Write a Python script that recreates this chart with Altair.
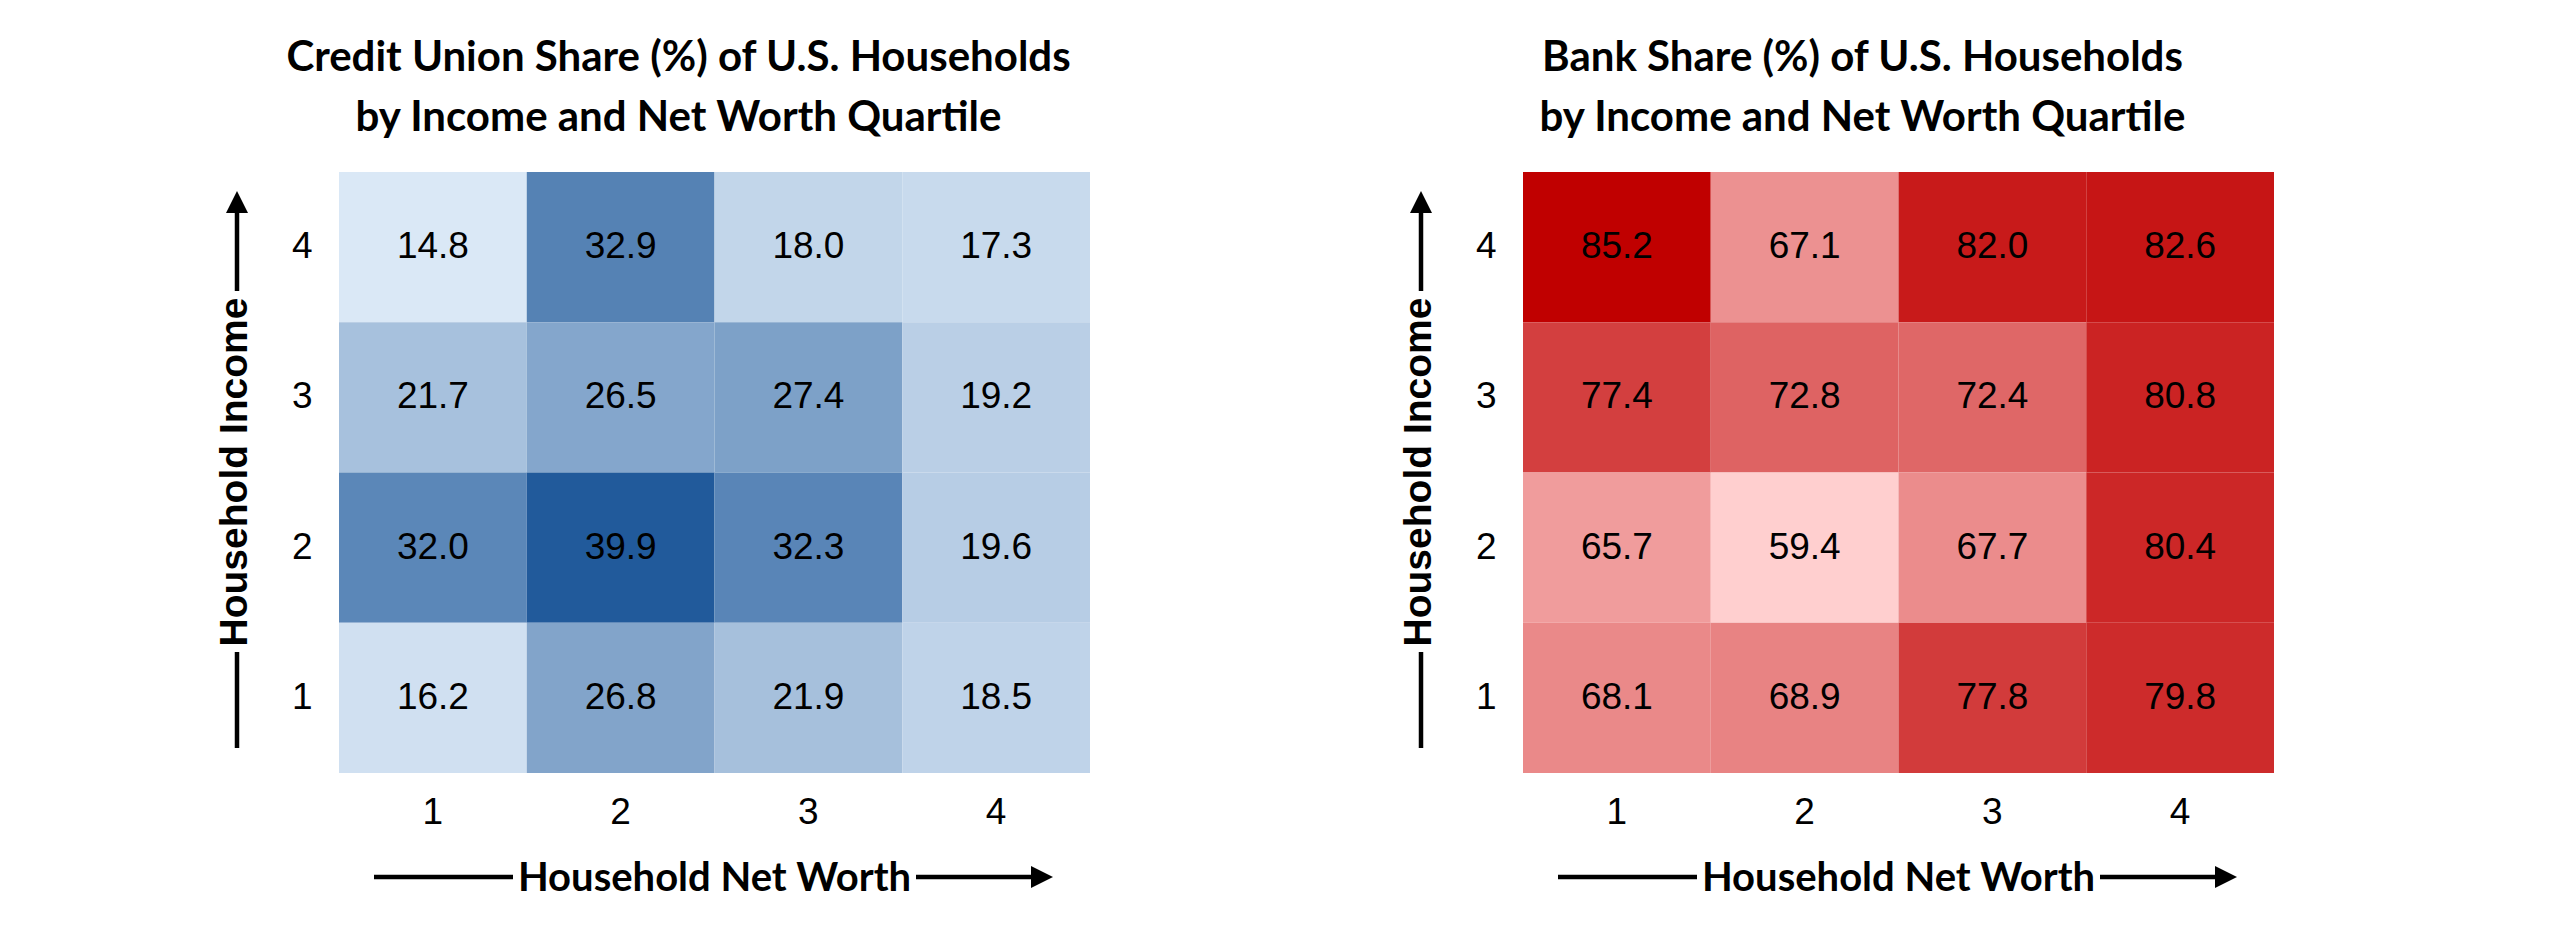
import altair as alt
import pandas as pd

net_worth_q = [1, 2, 3, 4]
income_q = [4, 3, 2, 1]

cu_share = [
    [14.8, 32.9, 18.0, 17.3],
    [21.7, 26.5, 27.4, 19.2],
    [32.0, 39.9, 32.3, 19.6],
    [16.2, 26.8, 21.9, 18.5],
]
bank_share = [
    [85.2, 67.1, 82.0, 82.6],
    [77.4, 72.8, 72.4, 80.8],
    [65.7, 59.4, 67.7, 80.4],
    [68.1, 68.9, 77.8, 79.8],
]

cu_title = ["Credit Union Share (%) of U.S. Households", "by Income and Net Worth Quartile"]
bank_title = ["Bank Share (%) of U.S. Households", "by Income and Net Worth Quartile"]
x_title = "Household Net Worth"
y_title = "Household Income"

blue_range = ["#dae8f6", "#215a9b"]
red_range = ["#ffcfcf", "#c00000"]

W, H = 751, 601
NARROW = "Lato, sans-serif"
REG = "Liberation Sans, Arial, sans-serif"


def frame(matrix):
    rows = []
    for i, inc in enumerate(income_q):
        for j, nw in enumerate(net_worth_q):
            rows.append({"inc": inc, "nw": nw, "v": matrix[i][j]})
    return pd.DataFrame(rows)


one = pd.DataFrame({"k": [0]})


def seg(x, x2, y, y2):
    return alt.Chart(one).mark_rule(color="black", strokeWidth=4.5).encode(
        x=alt.value(x), x2=alt.value(x2), y=alt.value(y), y2=alt.value(y2)
    )


def head(shape, x, y):
    return alt.Chart(one).mark_point(shape=shape, size=484, filled=True, color="black", opacity=1).encode(
        x=alt.value(x), y=alt.value(y)
    )


def panel(matrix, title, rng):
    df = frame(matrix)
    vals = [v for r in matrix for v in r]
    base = alt.Chart(df).encode(
        x=alt.X("nw:O", sort=net_worth_q, title="",
                axis=alt.Axis(labelAngle=0, labelFont=REG, labelFontSize=37, labelColor="black",
                              ticks=False, tickSize=0, domain=False, labelPadding=21)),
        y=alt.Y("inc:O", sort=income_q, title="",
                axis=alt.Axis(labelFont=REG, labelFontSize=37, labelColor="black",
                              ticks=False, tickSize=0, domain=False, labelPadding=27)),
    )
    rect = base.mark_rect().encode(
        color=alt.Color("v:Q", legend=None,
                        scale=alt.Scale(domain=[min(vals), max(vals)], range=rng, interpolate="rgb"))
    )
    txt = base.mark_text(font=REG, fontSize=37, color="black").encode(text=alt.Text("v:Q", format=".1f"))

    ytxt = alt.Chart(one).mark_text(text=y_title, font=REG, fontWeight="bold", fontSize=39,
                                    angle=270, align="center", baseline="middle", color="black").encode(
        x=alt.value(-104), y=alt.value(300))
    xtxt = alt.Chart(one).mark_text(text=x_title, font=NARROW, fontWeight="bold", fontSize=40,
                                    align="center", baseline="middle", color="black").encode(
        x=alt.value(375.5), y=alt.value(707))

    deco = [
        seg(-102, -102, 38, 119), seg(-102, -102, 480, 576), head("M0,-1L1,1L-1,1Z", -102, 30),
        seg(35, 174, 705, 705), seg(577, 695, 705, 705), head("M1,0L-1,-1L-1,1Z", 703, 705),
    ]
    return alt.layer(rect, txt, ytxt, xtxt, *deco).properties(
        width=W, height=H,
        title=alt.TitleParams(text=title, font=NARROW, fontWeight="bold", fontSize=42, lineHeight=60,
                              color="black", anchor="middle", dx=-36, offset=32),
    ).resolve_scale(color="independent")


chart = alt.hconcat(panel(cu_share, cu_title, blue_range), panel(bank_share, bank_title, red_range),
                    spacing=310).resolve_scale(color="independent").properties(
    padding={"left": 208, "top": 29, "right": 5, "bottom": 5}
).configure_view(stroke=None)

chart.save("out.html", embed_options={"renderer": "svg", "actions": False})
